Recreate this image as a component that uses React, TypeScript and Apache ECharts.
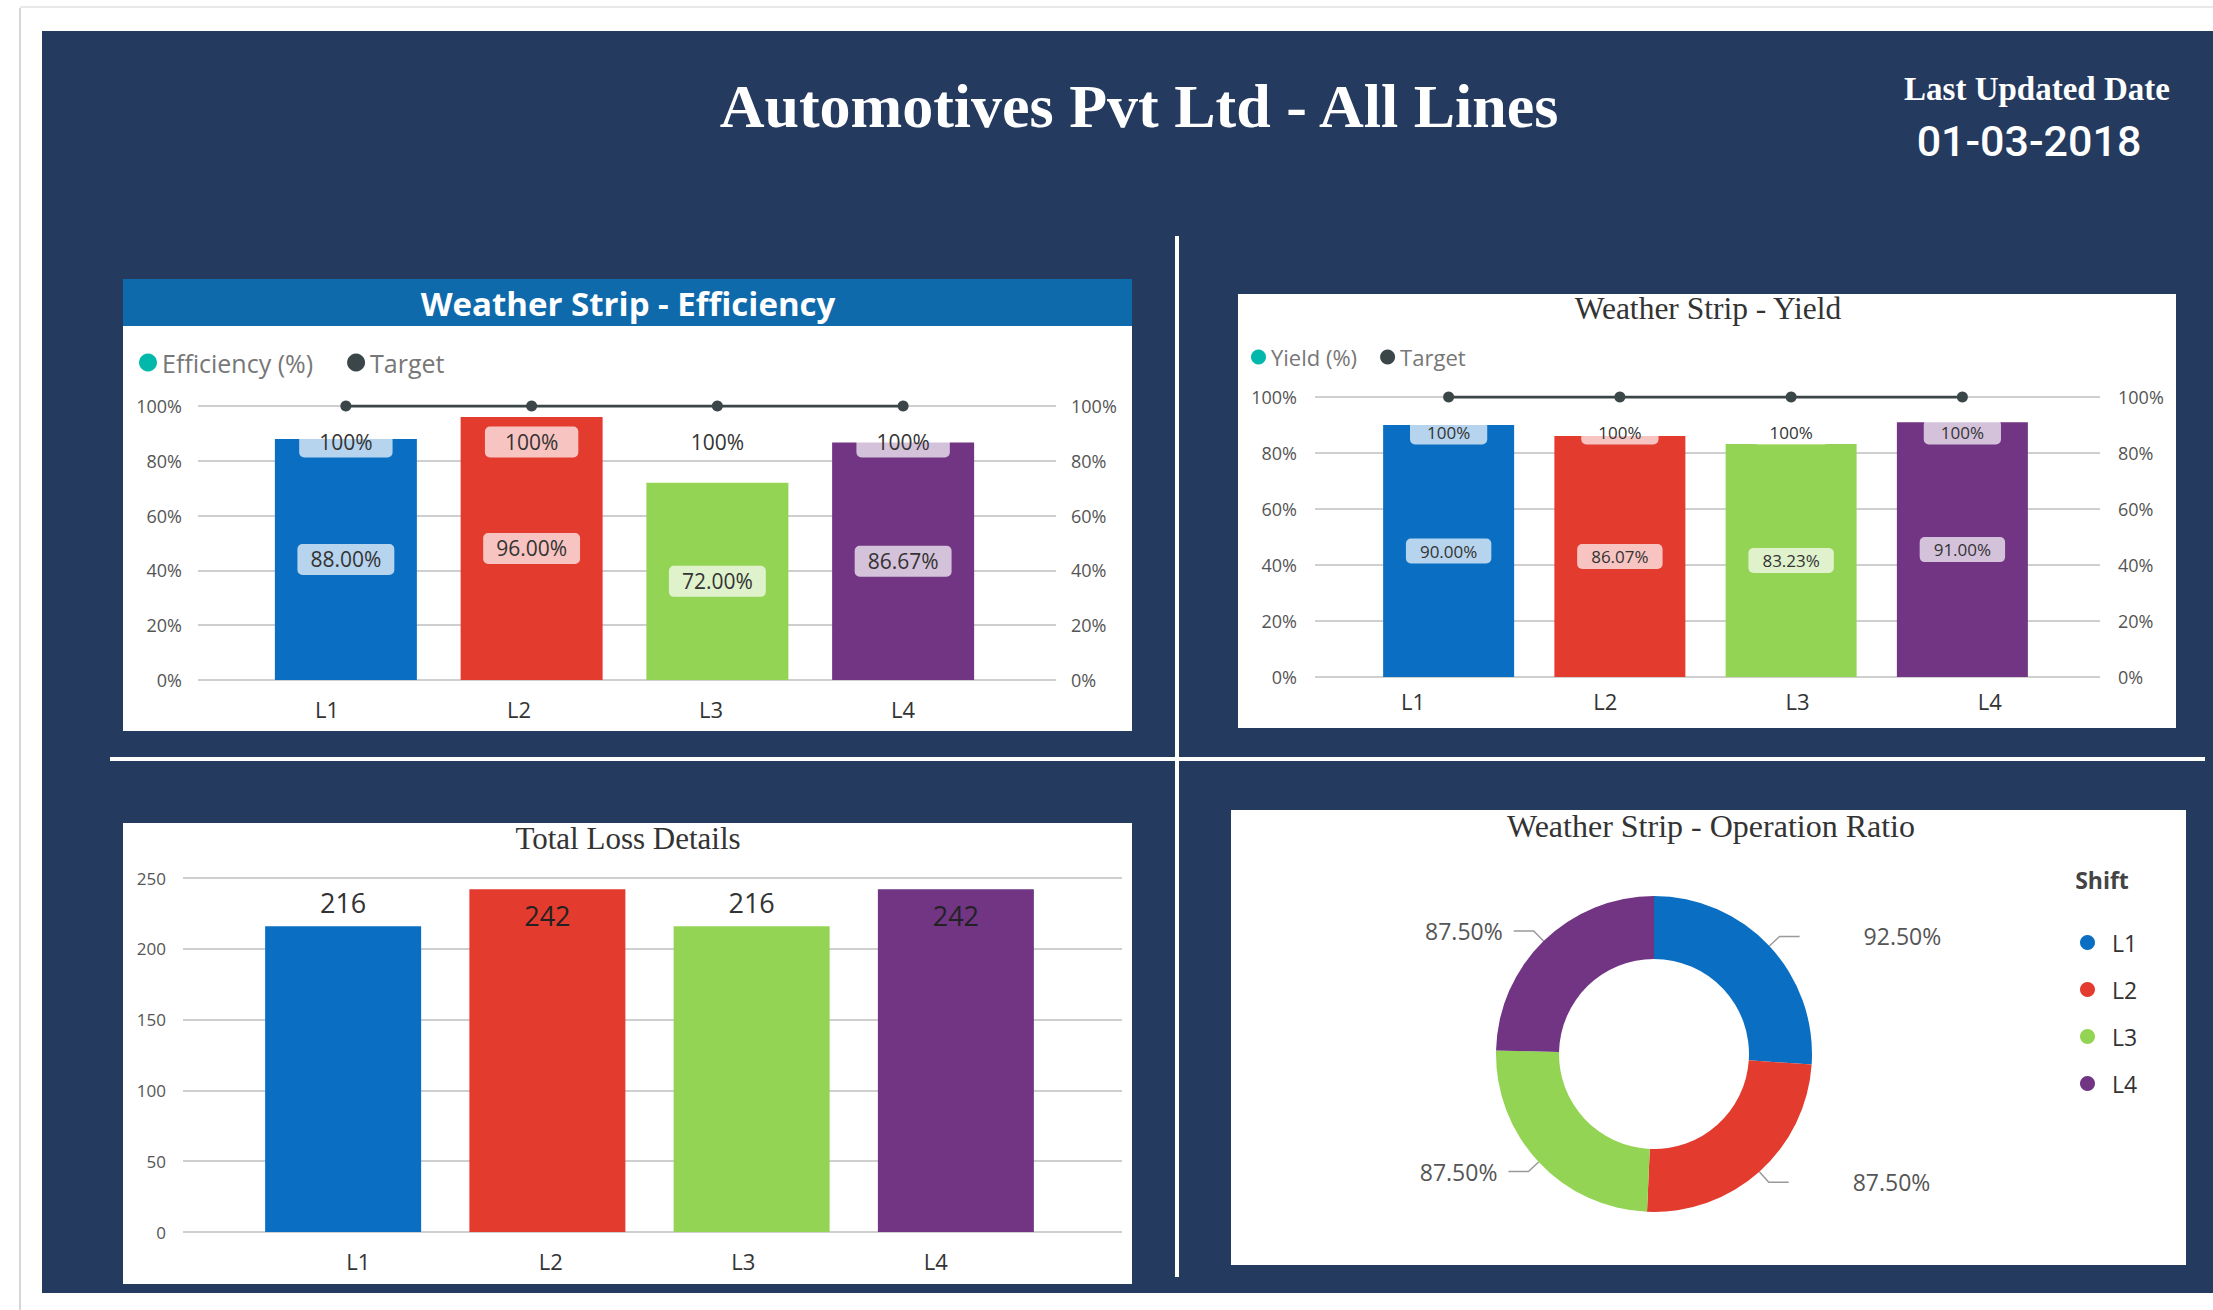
import React, { useEffect, useRef } from 'react';
import * as echarts from 'echarts';

// ---------------- data ----------------
const lines = ['L1', 'L2', 'L3', 'L4'];
const lineColors = ['#0a6fc2', '#e43b2f', '#94d454', '#713584'];
const efficiency = [88.0, 96.0, 72.0, 86.67];
const efficiencyTarget = [100, 100, 100, 100];
const yieldValues = [90.0, 86.07, 83.23, 91.0];
const yieldTarget = [100, 100, 100, 100];
const totalLoss = [216, 242, 216, 242];
const operationRatio = [92.5, 87.5, 87.5, 87.5];
const pctTicks = [0, 20, 40, 60, 80, 100];
const lossTicks = [0, 50, 100, 150, 200, 250];

const SANS = '"Open Sans", "Noto Sans", sans-serif';
const SERIF = '"Liberation Serif", "DejaVu Serif", serif';
const TARGET_COLOR = '#3b4649';
const LEGEND_TEAL = '#01b8aa';

function buildOption(): any {
  const pctMin = pctTicks[0];
  const pctMax = pctTicks[pctTicks.length - 1];
  const pctInt = pctTicks[1] - pctTicks[0];
  const lossMin = lossTicks[0];
  const lossMax = lossTicks[lossTicks.length - 1];
  const lossInt = lossTicks[1] - lossTicks[0];

  const grids = [
    // efficiency
    { left: 198, top: 406, width: 858, height: 274 },
    { left: 253, top: 406, width: 743, height: 274 },
    { left: 231, top: 406, width: 768, height: 274 },
    // yield
    { left: 1315, top: 397, width: 785, height: 280 },
    { left: 1363, top: 397, width: 685, height: 280 },
    { left: 1317, top: 397, width: 769, height: 280 },
    // total loss
    { left: 183, top: 878, width: 939, height: 354 },
    { left: 241, top: 878, width: 817, height: 354 },
    { left: 262, top: 878, width: 770, height: 354 },
  ].map((g) => ({ ...g, containLabel: false, outerBoundsMode: 'none' }));

  const hiddenCat = (gridIndex: number) => ({
    type: 'category', gridIndex, data: lines, show: false,
  });
  const labelCat = (gridIndex: number, margin: number) => ({
    type: 'category', gridIndex, data: lines,
    axisLine: { show: false }, axisTick: { show: false }, splitLine: { show: false },
    axisLabel: { margin, fontSize: 22, color: '#333', fontFamily: SANS },
  });
  const valAxis = (gridIndex: number, position: string, showSplit: boolean, margin: number,
    min: number, max: number, interval: number, fmt: string, fontSize: number) => ({
    type: 'value', gridIndex, position, min, max, interval,
    axisLine: { show: false }, axisTick: { show: false },
    splitLine: { show: showSplit, lineStyle: { color: '#cfcfcf', width: 2 } },
    axisLabel: { formatter: fmt, margin, fontSize, color: '#555', fontFamily: SANS },
  });
  const hiddenVal = (gridIndex: number, min: number, max: number) => ({
    type: 'value', gridIndex, min, max, show: false, splitLine: { show: false },
  });

  const xAxis = [
    hiddenCat(0), hiddenCat(1), labelCat(2, 18),
    hiddenCat(3), hiddenCat(4), labelCat(5, 13),
    hiddenCat(6), hiddenCat(7), labelCat(8, 18),
  ];
  const yAxis = [
    valAxis(0, 'left', true, 16, pctMin, pctMax, pctInt, '{value}%', 18),
    valAxis(0, 'right', false, 15, pctMin, pctMax, pctInt, '{value}%', 18),
    hiddenVal(1, pctMin, pctMax),
    hiddenVal(2, pctMin, pctMax),
    valAxis(3, 'left', true, 18, pctMin, pctMax, pctInt, '{value}%', 18),
    valAxis(3, 'right', false, 18, pctMin, pctMax, pctInt, '{value}%', 18),
    hiddenVal(4, pctMin, pctMax),
    hiddenVal(5, pctMin, pctMax),
    valAxis(6, 'left', true, 17, lossMin, lossMax, lossInt, '{value}', 17),
    hiddenVal(7, lossMin, lossMax),
    hiddenVal(8, lossMin, lossMax),
  ];

  const pctLabel = (v: number) => v.toFixed(2) + '%';

  const valueLabel = (fontSize: number, padding: number[]) => ({
    show: true, position: 'inside',
    formatter: (p: any) => pctLabel(p.value),
    fontSize, color: '#333', fontFamily: SANS,
    backgroundColor: 'rgba(255,255,255,0.7)', padding, borderRadius: 5,
  });
  const targetLabel = (fontSize: number, padding: number[], distance: number) => ({
    show: true, position: 'bottom', distance,
    formatter: '{c}%', fontSize, color: '#333', fontFamily: SANS,
    backgroundColor: 'rgba(255,255,255,0.7)', padding, borderRadius: 5,
  });

  // operation ratio label side from cumulative angle
  const opTotal = operationRatio.reduce((a, b) => a + b, 0);
  let acc = 0;
  const opData = operationRatio.map((v, i) => {
    const mid = ((acc + v / 2) / opTotal) * 360;
    acc += v;
    const right = mid < 180;
    return {
      name: lines[i], value: v,
      itemStyle: { color: lineColors[i] },
      label: { distanceToLabelLine: right ? 64 : 11 },
    };
  });

  const series: any[] = [
    {
      type: 'bar', name: 'Efficiency (%)', xAxisIndex: 1, yAxisIndex: 2, barWidth: 142,
      itemStyle: { color: LEGEND_TEAL },
      data: efficiency.map((v, i) => ({ value: v, itemStyle: { color: lineColors[i] } })),
      label: valueLabel(21, [5, 13]),
    },
    {
      type: 'line', name: 'Target', xAxisIndex: 1, yAxisIndex: 2, data: efficiencyTarget,
      symbol: 'circle', symbolSize: 11, z: 4,
      itemStyle: { color: TARGET_COLOR }, lineStyle: { color: TARGET_COLOR, width: 3 },
      label: targetLabel(21, [5, 20], 15),
    },
    {
      type: 'bar', name: 'Yield (%)', xAxisIndex: 4, yAxisIndex: 6, barWidth: 131,
      itemStyle: { color: LEGEND_TEAL },
      data: yieldValues.map((v, i) => ({ value: v, itemStyle: { color: lineColors[i] } })),
      label: valueLabel(17, [4, 14]),
    },
    {
      type: 'line', name: 'Target', xAxisIndex: 4, yAxisIndex: 6, data: yieldTarget,
      symbol: 'circle', symbolSize: 11, z: 4,
      itemStyle: { color: TARGET_COLOR }, lineStyle: { color: TARGET_COLOR, width: 3 },
      label: targetLabel(17, [4, 17], 17),
    },
    {
      type: 'bar', name: 'Total Loss', xAxisIndex: 7, yAxisIndex: 9, barWidth: 156,
      data: totalLoss.map((v, i) => {
        const inside = (lossMax - v) / (lossMax - lossMin) < 0.1;
        return {
          value: v,
          itemStyle: { color: lineColors[i] },
          label: inside
            ? { position: 'insideTop', distance: 13, color: '#222' }
            : { position: 'top', distance: 10, color: '#333' },
        };
      }),
      label: { show: true, fontSize: 27, fontFamily: SANS },
    },
    {
      type: 'pie', name: 'Operation Ratio', center: [1654, 1054], radius: [95, 158],
      startAngle: 90, clockwise: true, avoidLabelOverlap: true,
      data: opData,
      label: {
        show: true, formatter: (p: any) => pctLabel(p.value),
        fontSize: 23, color: '#555', fontFamily: SANS,
      },
      labelLine: { show: true, length: 14, length2: 20, lineStyle: { color: '#9a9a9a', width: 1.5 } },
    },
  ];

  const legend = [
    {
      left: 134, top: 345, icon: 'circle', itemWidth: 18, itemHeight: 18, itemGap: 34,
      textStyle: { fontSize: 25, color: '#777', fontFamily: SANS },
      data: [
        { name: 'Efficiency (%)', itemStyle: { color: LEGEND_TEAL } },
        { name: 'Target', itemStyle: { color: TARGET_COLOR } },
      ],
    },
    {
      left: 1246, top: 341, icon: 'circle', itemWidth: 15, itemHeight: 15, itemGap: 23,
      textStyle: { fontSize: 22, color: '#777', fontFamily: SANS },
      data: [
        { name: 'Yield (%)', itemStyle: { color: LEGEND_TEAL } },
        { name: 'Target', itemStyle: { color: TARGET_COLOR } },
      ],
    },
    {
      left: 2075, top: 926, orient: 'vertical', icon: 'circle', itemWidth: 15, itemHeight: 15, itemGap: 24,
      textStyle: { fontSize: 23, color: '#333', fontFamily: SANS, padding: [0, 0, 0, 12] },
      data: lines,
    },
  ];

  const txt = (text: string, x: number, y: number, font: string, fill: string) => ({
    type: 'text', x, y, z: 5,
    style: {
      text, font, fill,
      align: 'center', verticalAlign: 'middle',
      textAlign: 'center', textVerticalAlign: 'middle',
    },
  });
  const box = (x: number, y: number, w: number, h: number, fill: string) => ({
    type: 'rect', z: -10, shape: { x, y, width: w, height: h }, style: { fill },
  });

  const graphic = [
    box(19, 8, 2, 1302, '#d6d6d6'),
    box(20, 6, 2193, 2, '#e8e8e8'),
    box(42, 31, 2171, 1262, '#243a5e'),
    box(1175, 236, 4, 1041, '#ffffff'),
    box(110, 757, 2095, 4, '#ffffff'),
    box(123, 279, 1009, 452, '#ffffff'),
    box(1238, 294, 938, 434, '#ffffff'),
    box(123, 823, 1009, 461, '#ffffff'),
    box(1231, 810, 955, 455, '#ffffff'),
    box(123, 279, 1009, 47, '#0f6aac'),
    txt('Automotives Pvt Ltd - All Lines', 1139, 106, `bold 62px ${SERIF}`, '#ffffff'),
    txt('Last Updated Date', 2037, 89, `bold 33px ${SERIF}`, '#ffffff'),
    txt('01-03-2018', 2029, 141, `500 43px Roboto, sans-serif`, '#ffffff'),
    txt('Weather Strip - Efficiency', 628, 303, `bold 33px ${SANS}`, '#ffffff'),
    txt('Weather Strip - Yield', 1708, 308, `31.5px ${SERIF}`, '#333333'),
    txt('Total Loss Details', 628, 838, `31px ${SERIF}`, '#333333'),
    txt('Weather Strip - Operation Ratio', 1711, 826, `32px ${SERIF}`, '#333333'),
    txt('Shift', 2102, 880, `bold 23px ${SANS}`, '#444444'),
  ];

  return {
    animation: false,
    backgroundColor: '#ffffff',
    grid: grids,
    xAxis,
    yAxis,
    legend,
    series,
    graphic,
  };
}

export default function App() {
  const ref = useRef<HTMLDivElement>(null);
  useEffect(() => {
    if (!ref.current) return;
    const chart = echarts.init(ref.current, null, { renderer: 'svg', width: 2213, height: 1310 });
    chart.setOption(buildOption());
    return () => chart.dispose();
  }, []);
  return (
    <div
      ref={ref}
      style={{ position: 'absolute', left: 0, top: 0, width: 2213, height: 1310 }}
    />
  );
}
